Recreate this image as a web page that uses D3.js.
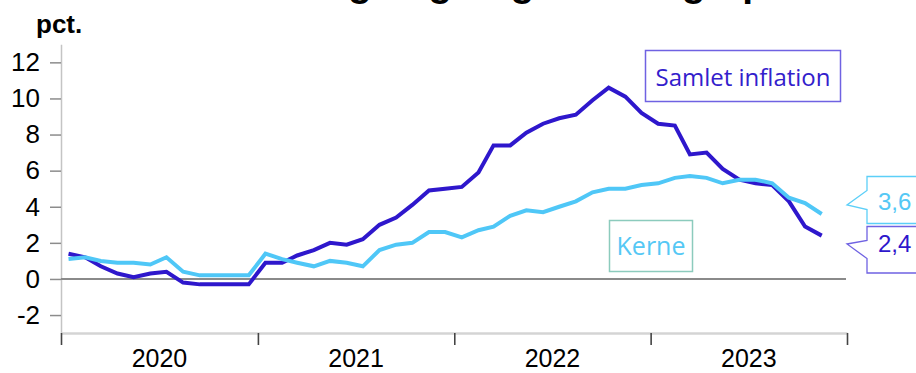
<!DOCTYPE html>
<html>
<head>
<meta charset="utf-8">
<script src="https://cdn.jsdelivr.net/npm/d3@7"></script>
<style>
  html, body { margin: 0; padding: 0; background: #fff; }
  svg { display: block; }
</style>
</head>
<body>
<svg id="chart" width="916" height="373"></svg>
<script>
// ---- data (Jan 2020 – Nov 2023), pct. ----
const months = [
  "2020-01","2020-02","2020-03","2020-04","2020-05","2020-06","2020-07","2020-08","2020-09","2020-10","2020-11","2020-12",
  "2021-01","2021-02","2021-03","2021-04","2021-05","2021-06","2021-07","2021-08","2021-09","2021-10","2021-11","2021-12",
  "2022-01","2022-02","2022-03","2022-04","2022-05","2022-06","2022-07","2022-08","2022-09","2022-10","2022-11","2022-12",
  "2023-01","2023-02","2023-03","2023-04","2023-05","2023-06","2023-07","2023-08","2023-09","2023-10","2023-11"
];
const samlet = [
  1.4, 1.2, 0.7, 0.3, 0.1, 0.3, 0.4, -0.2, -0.3, -0.3, -0.3, -0.3,
  0.9, 0.9, 1.3, 1.6, 2.0, 1.9, 2.2, 3.0, 3.4, 4.1, 4.9, 5.0,
  5.1, 5.9, 7.4, 7.4, 8.1, 8.6, 8.9, 9.1, 9.9, 10.6, 10.1, 9.2,
  8.6, 8.5, 6.9, 7.0, 6.1, 5.5, 5.3, 5.2, 4.3, 2.9, 2.4
];
const kerne = [
  1.1, 1.2, 1.0, 0.9, 0.9, 0.8, 1.2, 0.4, 0.2, 0.2, 0.2, 0.2,
  1.4, 1.1, 0.9, 0.7, 1.0, 0.9, 0.7, 1.6, 1.9, 2.0, 2.6, 2.6,
  2.3, 2.7, 2.9, 3.5, 3.8, 3.7, 4.0, 4.3, 4.8, 5.0, 5.0, 5.2,
  5.3, 5.6, 5.7, 5.6, 5.3, 5.5, 5.5, 5.3, 4.5, 4.2, 3.6
];
const yTicks = [-2, 0, 2, 4, 6, 8, 10, 12];
const years = [2020, 2021, 2022, 2023];
const seriesNames = ["Samlet inflation", "Kerne"];
const endLabels = ["2,4", "3,6"];
const unitLabel = "pct.";
const titleText = "Årlig stigning i forbrugerpriserne";

// ---- styles ----
const cDark = "#2e17cc";
const cLight = "#4fc7f7";
const axisFont = "'Liberation Sans', Arial, sans-serif";
const boxFont = "'Open Sans', sans-serif";

const svg = d3.select("#chart");

const parse = d3.timeParse("%Y-%m");
const mid = s => { const d = parse(s); return new Date(d.getFullYear(), d.getMonth(), 15); };

const x = d3.scaleTime()
  .domain([new Date(years[0], 0, 1), new Date(years[years.length - 1] + 1, 0, 1)])
  .range([61, 847]);
const y = d3.scaleLinear().domain([-3, 13]).range([333.1, 44.3]);

// title (clipped at the top edge, as in the reference)
svg.append("text")
  .attr("x", 283).attr("y", -4)
  .attr("font-family", axisFont).attr("font-weight", "bold").attr("font-size", 39)
  .attr("fill", "#000")
  .text(titleText);

// unit label
svg.append("text")
  .attr("x", 36).attr("y", 33)
  .attr("font-family", axisFont).attr("font-weight", "bold").attr("font-size", 26)
  .attr("fill", "#000")
  .text(unitLabel);

// y axis
const yAxis = svg.append("g")
  .attr("transform", "translate(61,0)")
  .call(d3.axisLeft(y).tickValues(yTicks).tickSize(11).tickSizeOuter(0).tickPadding(10).tickFormat(d => String(d)));
yAxis.select(".domain").attr("stroke", "#c4c4c4").attr("stroke-width", 1.5);
yAxis.selectAll(".tick line").attr("stroke", "#8c8c8c").attr("stroke-width", 1.5);
yAxis.selectAll(".tick text")
  .attr("font-family", axisFont).attr("font-size", 26).attr("fill", "#000");

// x axis
const yearStarts = years.concat([years[years.length - 1] + 1]).map(v => new Date(v, 0, 1));
const xAxis = svg.append("g")
  .attr("transform", "translate(0,333)")
  .call(d3.axisBottom(x).tickValues(yearStarts).tickSize(12).tickSizeOuter(0).tickFormat(""));
xAxis.select(".domain").attr("stroke", "#d4d4d4").attr("stroke-width", 2.5);
xAxis.selectAll(".tick line").attr("stroke", "#444").attr("stroke-width", 1.6);

svg.append("g").selectAll("text")
  .data(years).join("text")
  .attr("x", d => (x(new Date(d, 0, 1)) + x(new Date(d + 1, 0, 1))) / 2)
  .attr("y", 367)
  .attr("text-anchor", "middle")
  .attr("font-family", axisFont).attr("font-size", 25).attr("fill", "#000")
  .text(d => d);

// zero line
svg.append("line")
  .attr("x1", 61).attr("x2", 846)
  .attr("y1", y(0)).attr("y2", y(0))
  .attr("stroke", "#8a8a8a").attr("stroke-width", 2);

// lines
const line = d3.line().x(d => x(mid(d[0]))).y(d => y(d[1]));
svg.append("path")
  .datum(months.map((m, i) => [m, samlet[i]]))
  .attr("d", line).attr("fill", "none")
  .attr("stroke", cDark).attr("stroke-width", 4);
svg.append("path")
  .datum(months.map((m, i) => [m, kerne[i]]))
  .attr("d", line).attr("fill", "none")
  .attr("stroke", cLight).attr("stroke-width", 4);

// series label boxes
svg.append("rect")
  .attr("x", 645.5).attr("y", 50.5).attr("width", 195).attr("height", 51)
  .attr("fill", "#fff").attr("stroke", "#6f62e2").attr("stroke-width", 1.5);
svg.append("text")
  .attr("x", 743).attr("y", 86).attr("text-anchor", "middle")
  .attr("font-family", boxFont).attr("font-size", 24).attr("fill", "#3320cc")
  .text(seriesNames[0]);

svg.append("rect")
  .attr("x", 609.5).attr("y", 220.5).attr("width", 83).attr("height", 51)
  .attr("fill", "#fff").attr("stroke", "#8ccbbd").attr("stroke-width", 1.5);
svg.append("text")
  .attr("x", 651).attr("y", 255).attr("text-anchor", "middle")
  .attr("font-family", boxFont).attr("font-size", 25).attr("fill", "#55c8f5")
  .text(seriesNames[1]);

// end value callouts
const callout = (top, bottom, v1, tip, v2) =>
  `M930,${top} L867,${top} L867,${v1} L847,${tip} L867,${v2} L867,${bottom} L930,${bottom}`;

svg.append("path")
  .attr("d", callout(176.5, 223.5, 190.5, 205, 209.5))
  .attr("fill", "#fff").attr("stroke", "#5ccff8").attr("stroke-width", 1.3);
svg.append("path")
  .attr("d", callout(226.5, 273, 240.5, 244, 258.5))
  .attr("fill", "#fff").attr("stroke", "#6f62e2").attr("stroke-width", 1.3);

svg.append("text")
  .attr("x", 878).attr("y", 210)
  .attr("font-family", axisFont).attr("font-size", 24).attr("fill", "#55c8f5")
  .text(endLabels[1]);
svg.append("text")
  .attr("x", 878).attr("y", 252)
  .attr("font-family", axisFont).attr("font-size", 24).attr("fill", "#2e17cc")
  .text(endLabels[0]);
</script>
</body>
</html>
